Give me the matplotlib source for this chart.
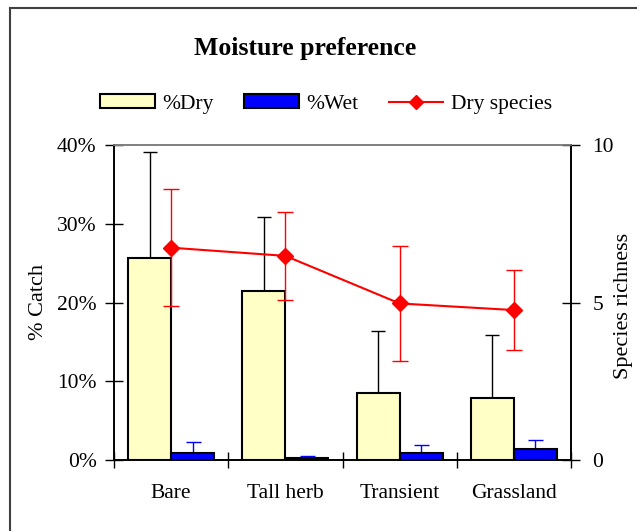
import matplotlib
matplotlib.use('Agg')
import matplotlib.pyplot as plt
import numpy as np
from matplotlib.lines import Line2D
from matplotlib.patches import Patch
from matplotlib.ticker import PercentFormatter

# data
habitats = ['Bare', 'Tall herb', 'Transient', 'Grassland']
pct_dry = [25.6, 21.4, 8.5, 7.9]
pct_dry_err = [13.5, 9.5, 7.9, 8.0]
pct_wet = [0.85, 0.3, 0.85, 1.35]
pct_wet_err = [1.45, 0.2, 1.05, 1.25]
dry_species = [6.74, 6.48, 4.97, 4.76]
dry_species_err = [1.85, 1.40, 1.82, 1.26]

plt.rcParams['font.family'] = ['Liberation Serif', 'DejaVu Serif']

fig = plt.figure(figsize=(6.37, 5.31), dpi=100)
ax = fig.add_axes([114 / 637, 1 - 460 / 531, 457 / 637, 315 / 531])
ax2 = ax.twinx()

x = np.arange(len(habitats))
w = 0.376
yellow = '#FFFFC6'

ax.bar(x - w / 2, pct_dry, w, color=yellow, edgecolor='black', linewidth=1.5, zorder=2)
ax.errorbar(x - w / 2, pct_dry, yerr=[np.zeros(4), pct_dry_err], fmt='none',
            ecolor='black', elinewidth=1, capsize=4.7, capthick=1, zorder=1)
ax.bar(x + w / 2, pct_wet, w, color='#0000FF', edgecolor='black', linewidth=1.5, zorder=2)
ax.errorbar(x + w / 2, pct_wet, yerr=[np.zeros(4), pct_wet_err], fmt='none',
            ecolor='#0000FF', elinewidth=1, capsize=5.4, capthick=1, zorder=1)

ax2.errorbar(x, dry_species, yerr=dry_species_err, color='red', marker='D',
             markersize=8, linewidth=1.5, elinewidth=1, capsize=6, capthick=1)

ax.set_xlim(-0.5, 3.5)
ax.set_ylim(0, 40)
ax2.set_ylim(0, 10)
ax.set_yticks([0, 10, 20, 30, 40])
ax.yaxis.set_major_formatter(PercentFormatter(decimals=0))
ax2.set_yticks([0, 5, 10])

ax.set_xticks(x)
ax.set_xticklabels(habitats)
ax.set_xticks(np.arange(-0.5, 4, 1), minor=True)
ax.tick_params(axis='x', which='major', length=0, pad=17, labelsize=15.5)
ax.tick_params(axis='x', which='minor', direction='inout', length=12, width=1)
ax.tick_params(axis='y', direction='inout', length=13, width=1, labelsize=15.5, pad=6)
ax2.tick_params(axis='y', direction='inout', length=13, width=1, labelsize=15.5, pad=9)

for a in (ax, ax2):
    a.spines['top'].set_color('#808080')
    a.spines['top'].set_linewidth(1.2)
    for s in ('left', 'right', 'bottom'):
        a.spines[s].set_linewidth(1.2)

ax.set_ylabel('% Catch', fontsize=16)
ax.yaxis.set_label_coords(-0.145, 0.5)
ax2.set_ylabel('Species richness', fontsize=16)
ax2.yaxis.set_label_coords(1.095, 0.49)

fig.text(305 / 637, 1 - 49 / 531, 'Moisture preference', ha='center', va='center',
         fontsize=18.5, fontweight='bold')

handles = [Patch(facecolor=yellow, edgecolor='black', linewidth=1.5),
           Patch(facecolor='#0000FF', edgecolor='black', linewidth=1.5),
           Line2D([], [], color='red', marker='D', markersize=7, linewidth=1.5)]
fig.legend(handles, ['%Dry', '%Wet', 'Dry species'], loc='center',
           bbox_to_anchor=(326 / 637, 1 - 104 / 531), ncol=3, frameon=False,
           fontsize=15.5, handlelength=2.55, handleheight=0.65, columnspacing=1.4,
           handletextpad=0.35)

# outer chart frame (left and top edges visible)
fig.add_artist(Line2D([10 / 637, 10 / 637], [0, 1 - 8 / 531], color='#404040',
                      linewidth=1.5, transform=fig.transFigure))
fig.add_artist(Line2D([10 / 637, 1], [1 - 8 / 531, 1 - 8 / 531], color='#404040',
                      linewidth=1.5, transform=fig.transFigure))

fig.savefig('out.png', dpi=100)
